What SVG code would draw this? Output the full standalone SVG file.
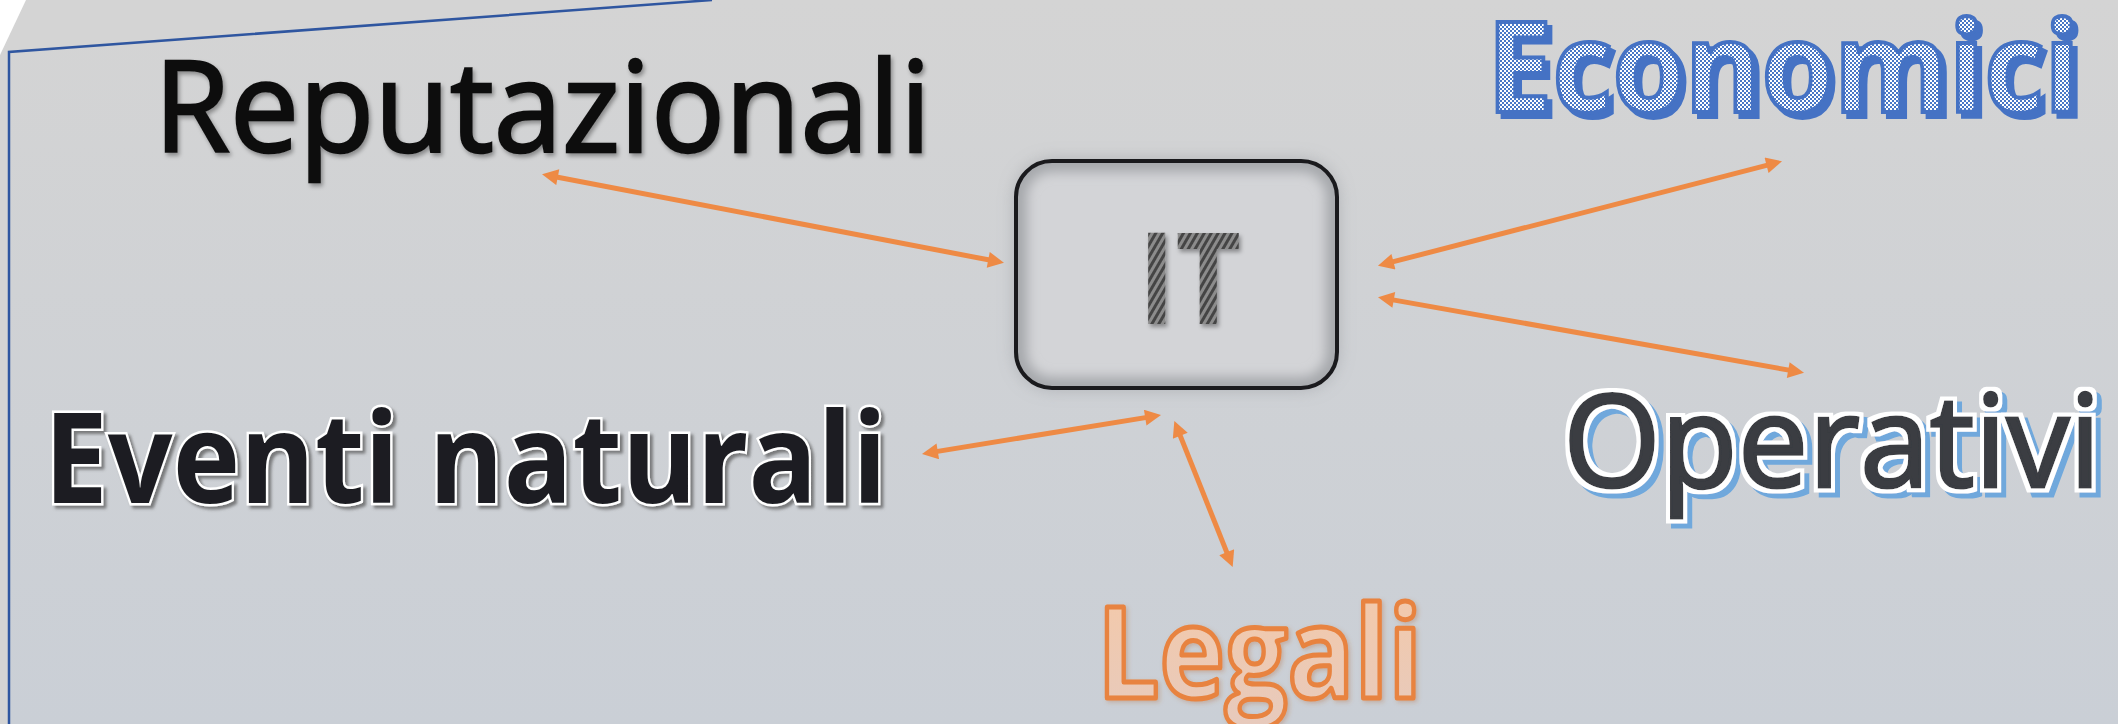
<svg xmlns="http://www.w3.org/2000/svg" width="2118" height="724" viewBox="0 0 2118 724">
  <style>
    .sans { font-family: "Open Sans", "Noto Sans", "Liberation Sans", sans-serif; }
    .conn { fill: none; stroke: #EE8A45; stroke-width: 5; marker-start: url(#ah); marker-end: url(#ah); }
  </style>
  <defs>
    <linearGradient id="panelGrad" x1="0" y1="0" x2="0" y2="1">
      <stop offset="0" stop-color="#d4d4d4"/>
      <stop offset="1" stop-color="#cacfd6"/>
    </linearGradient>
    <linearGradient id="legGrad" x1="0" y1="0" x2="0" y2="1">
      <stop offset="0" stop-color="#f6c9a6"/>
      <stop offset="1" stop-color="#e6cabe"/>
    </linearGradient>
    <pattern id="checker" patternUnits="userSpaceOnUse" width="4" height="4">
      <rect width="4" height="4" fill="#ffffff"/>
      <rect width="2" height="2" fill="#4a78c6"/>
      <rect x="2" y="2" width="2" height="2" fill="#4a78c6"/>
    </pattern>
    <pattern id="stripes" patternUnits="userSpaceOnUse" width="6" height="6" patternTransform="rotate(30)">
      <rect width="6" height="6" fill="#8c8c8c"/>
      <rect width="3" height="6" fill="#454545"/>
    </pattern>
    <marker id="ah" viewBox="0 0 10 10" refX="5" refY="5" markerUnits="userSpaceOnUse" markerWidth="18" markerHeight="16" orient="auto-start-reverse">
      <path d="M0,0 L10,5 L0,10 z" fill="#EE8A45"/>
    </marker>
    <filter id="softShadow" x="-5%" y="-20%" width="110%" height="140%">
      <feDropShadow dx="2" dy="3" stdDeviation="2" flood-color="#000" flood-opacity="0.35"/>
    </filter>
    <filter id="grayShadow" x="-5%" y="-20%" width="110%" height="140%">
      <feDropShadow dx="3" dy="3" stdDeviation="1.5" flood-color="#555" flood-opacity="0.7"/>
    </filter>
    <filter id="orangeShadow" x="-5%" y="-20%" width="110%" height="140%">
      <feDropShadow dx="2" dy="2" stdDeviation="2" flood-color="#b06030" flood-opacity="0.3"/>
    </filter>
    <filter id="ecoFx" x="-5%" y="-20%" width="115%" height="150%">
      <feOffset in="SourceAlpha" dx="5" dy="5" result="off"/>
      <feFlood flood-color="#4472c4"/>
      <feComposite in2="off" operator="in" result="shadow"/>
      <feMerge>
        <feMergeNode in="shadow"/>
        <feMergeNode in="SourceGraphic"/>
      </feMerge>
    </filter>
    <filter id="opFx" x="-5%" y="-20%" width="115%" height="150%">
      <feMorphology in="SourceAlpha" operator="dilate" radius="4" result="dil"/>
      <feFlood flood-color="#ffffff"/>
      <feComposite in2="dil" operator="in" result="outline"/>
      <feOffset in="dil" dx="5" dy="5" result="offA"/>
      <feFlood flood-color="#6fa8dc"/>
      <feComposite in2="offA" operator="in" result="shadow"/>
      <feMerge>
        <feMergeNode in="shadow"/>
        <feMergeNode in="outline"/>
        <feMergeNode in="SourceGraphic"/>
      </feMerge>
    </filter>
    <filter id="blur10" x="-20%" y="-30%" width="140%" height="160%">
      <feGaussianBlur stdDeviation="9"/>
    </filter>
    <filter id="blur6" x="-20%" y="-30%" width="140%" height="160%">
      <feGaussianBlur stdDeviation="6"/>
    </filter>
    <clipPath id="boxClip">
      <rect x="1016" y="161" width="321" height="227" rx="36"/>
    </clipPath>
  </defs>

  <!-- background -->
  <rect width="2118" height="724" fill="#d4d4d4"/>
  <polygon points="0,0 26,0 0,55" fill="#ffffff"/>
  <polygon points="9,52 712,0 2118,0 2118,724 9,724" fill="url(#panelGrad)"/>
  <polyline points="9,724 9,52 712,0" fill="none" stroke="#2f56a0" stroke-width="2.5"/>

  <!-- connectors -->
  <g id="connectors">
    <line class="conn" x1="549.9" y1="175.7" x2="996.1" y2="261.3"/>
    <line class="conn" x1="1385.7" y1="263.7" x2="1774.3" y2="163.3"/>
    <line class="conn" x1="1385.9" y1="298.6" x2="1796.1" y2="371.4"/>
    <line class="conn" x1="929.9" y1="452.6" x2="1153.1" y2="416.4"/>
    <line class="conn" x1="1177.3" y1="428.4" x2="1229.7" y2="559.6"/>
  </g>

  <!-- IT node -->
  <g id="node-it">
    <rect x="1016" y="161" width="321" height="227" rx="36" fill="#9a9ca1" opacity="0.7" filter="url(#blur10)"/>
    <rect x="1016" y="161" width="321" height="227" rx="36" fill="#d3d4d7"/>
    <g clip-path="url(#boxClip)">
      <rect x="1016" y="161" width="321" height="227" rx="36" fill="none" stroke="#a6a8ac" stroke-width="22" filter="url(#blur6)"/>
    </g>
    <rect x="1016" y="161" width="321" height="227" rx="36" fill="none" stroke="#1a1a1d" stroke-width="4"/>
    <text class="sans" x="1138" y="324" font-size="128" font-weight="700" textLength="103" lengthAdjust="spacingAndGlyphs" fill="url(#stripes)" filter="url(#softShadow)">IT</text>
  </g>

  <!-- Reputazionali -->
  <g id="node-reputazionali" filter="url(#softShadow)">
    <text class="sans" x="154" y="152" font-size="126" textLength="777" lengthAdjust="spacingAndGlyphs" fill="#0d0d0d" stroke="#0d0d0d" stroke-width="2.5">Reputazionali</text>
  </g>

  <!-- Economici -->
  <g id="node-economici" filter="url(#ecoFx)">
    <text class="sans" x="1487" y="112" font-size="126" font-weight="700" textLength="593" lengthAdjust="spacingAndGlyphs" fill="url(#checker)" stroke="#4472c4" stroke-width="4">Economici</text>
  </g>

  <!-- Eventi naturali -->
  <g id="node-eventi-naturali" filter="url(#grayShadow)">
    <text class="sans" x="44" y="503" font-size="126" font-weight="700" textLength="843" lengthAdjust="spacingAndGlyphs" fill="#1d1f23" stroke="#ffffff" stroke-width="5" paint-order="stroke">Eventi naturali</text>
  </g>

  <!-- Operativi -->
  <g id="node-operativi" filter="url(#opFx)">
    <text class="sans" x="1563" y="487" font-size="128" textLength="538" lengthAdjust="spacingAndGlyphs" fill="#3a3c42" stroke="#3a3c42" stroke-width="3">Operativi</text>
  </g>

  <!-- Legali -->
  <g id="node-legali" filter="url(#orangeShadow)">
    <text class="sans" x="1097" y="698" font-size="128" font-weight="700" textLength="325" lengthAdjust="spacingAndGlyphs" fill="url(#legGrad)" stroke="#e8833f" stroke-width="5" stroke-linejoin="round">Legali</text>
  </g>
</svg>
